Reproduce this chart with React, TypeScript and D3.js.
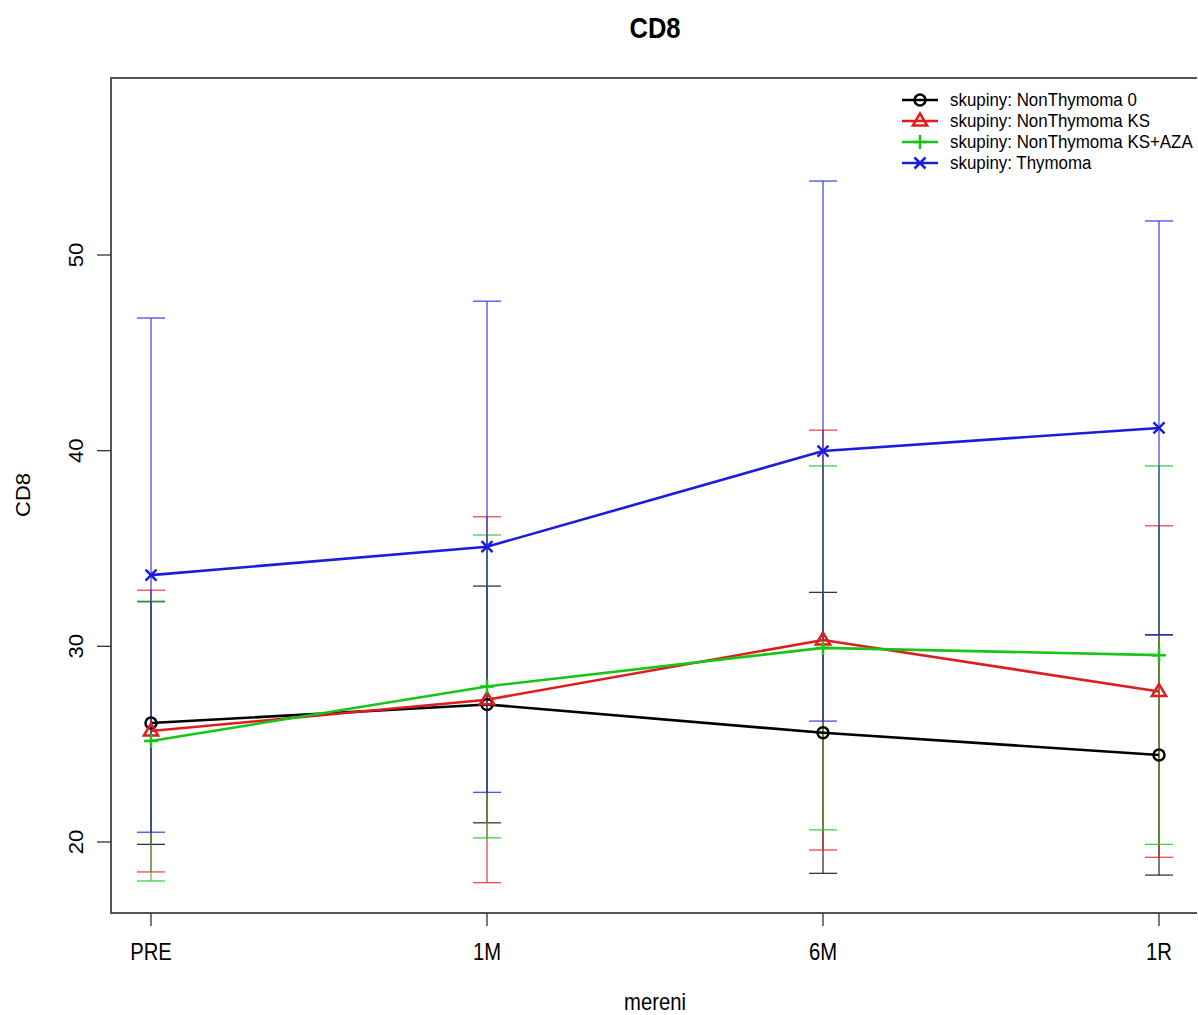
import React from "react";
import * as d3 from "d3";

const categories = ["PRE", "1M", "6M", "1R"];
const groupNames = [
  "skupiny: NonThymoma 0",
  "skupiny: NonThymoma KS",
  "skupiny: NonThymoma KS+AZA",
  "skupiny: Thymoma",
];
const meanNon0 = [26.08, 27.03, 25.58, 24.45];
const errNon0 = [6.2, 6.05, 7.18, 6.14];
const meanKS = [25.67, 27.27, 30.32, 27.69];
const errKS = [7.2, 9.35, 10.73, 8.47];
const meanKSAZA = [25.16, 27.95, 29.92, 29.55];
const errKSAZA = [7.15, 7.74, 9.3, 9.67];
const meanThym = [33.64, 35.09, 39.98, 41.16];
const errThym = [13.14, 12.55, 13.8, 10.58];
const yTicks = [20, 30, 40, 50];

const colors = ["#000000", "#e01c1c", "#18c418", "#1c1cdc"];
const shapes = ["circle", "triangle", "plus", "cross"];

const FONT = "'Liberation Sans', Arial, Helvetica, sans-serif";
const C = 0.88; // horizontal squeeze of the text

function Marker({ shape, x, y, color }: { shape: string; x: number; y: number; color: string }) {
  const sw = 2.5;
  if (shape === "circle")
    return <circle cx={x} cy={y} r={5.5} fill="none" stroke={color} strokeWidth={sw} />;
  if (shape === "triangle") {
    const s = 7.5;
    const p = d3.path();
    p.moveTo(x, y - s);
    p.lineTo(x + s * 0.95, y + s * 0.6);
    p.lineTo(x - s * 0.95, y + s * 0.6);
    p.closePath();
    return <path d={p.toString()} fill="none" stroke={color} strokeWidth={sw} />;
  }
  if (shape === "plus") {
    const s = 7;
    return (
      <path d={`M${x - s},${y}H${x + s}M${x},${y - s}V${y + s}`} stroke={color} strokeWidth={sw} />
    );
  }
  const s = 5.5;
  return (
    <path
      d={`M${x - s},${y - s}L${x + s},${y + s}M${x - s},${y + s}L${x + s},${y - s}`}
      stroke={color}
      strokeWidth={sw}
    />
  );
}

export default function App() {
  const W = 1198;
  const H = 1015;
  const left = 111;
  const top = 78;
  const bottom = 913;
  const right = 1197;

  const x = d3.scalePoint<string>().domain(categories).range([151, 1159]);
  const y = d3.scaleLinear().domain([20, 50]).range([842, 255]);

  const means = [meanNon0, meanKS, meanKSAZA, meanThym];
  const errs = [errNon0, errKS, errKSAZA, errThym];

  const line = d3
    .line<number>()
    .x((_, i) => x(categories[i]) as number)
    .y((d) => y(d));

  const cap = 14;
  const legendX = 920;
  const legendY0 = 100;
  const legendDy = 21;

  return (
    <svg width={W} height={H} style={{ position: "absolute", left: 0, top: 0 }} fontFamily={FONT}>
      <rect x={0} y={0} width={W} height={H} fill="#fff" />
      {/* title */}
      <text
        transform={`translate(655,38) scale(${C},1)`}
        textAnchor="middle"
        fontWeight="bold"
        fontSize={29}
        fill="#000"
      >
        CD8
      </text>

      {/* error bars */}
      {means.map((m, g) => (
        <g key={"eb" + g} stroke={colors[g]} strokeWidth={1.2} opacity={0.85}>
          {m.map((v, i) => {
            const cx = x(categories[i]) as number;
            const hi = y(v + errs[g][i]);
            const lo = y(v - errs[g][i]);
            return (
              <g key={i}>
                <line x1={cx} x2={cx} y1={hi} y2={lo} />
                <line x1={cx - cap} x2={cx + cap} y1={hi} y2={hi} />
                <line x1={cx - cap} x2={cx + cap} y1={lo} y2={lo} />
              </g>
            );
          })}
        </g>
      ))}

      {/* lines */}
      {means.map((m, g) => (
        <path key={"ln" + g} d={line(m) as string} fill="none" stroke={colors[g]} strokeWidth={2.6} />
      ))}
      {means.map((m, g) =>
        m.map((v, i) => (
          <Marker
            key={"mk" + g + "-" + i}
            shape={shapes[g]}
            x={x(categories[i]) as number}
            y={y(v)}
            color={colors[g]}
          />
        ))
      )}

      {/* plot box */}
      <path
        d={`M${right},${top}H${left}V${bottom}H${right}`}
        fill="none"
        stroke="#555"
        strokeWidth={2}
      />

      {/* y axis */}
      {yTicks.map((t) => (
        <g key={"yt" + t}>
          <line x1={97} x2={left} y1={y(t)} y2={y(t)} stroke="#333" strokeWidth={1.3} />
          <text
            transform={`translate(83,${y(t)}) scale(${C},1) rotate(-90)`}
            textAnchor="middle"
            fontSize={22}
            fill="#000"
          >
            {t}
          </text>
        </g>
      ))}
      <text
        transform={`translate(30,495) scale(${C},1) rotate(-90)`}
        textAnchor="middle"
        fontSize={22}
        fill="#000"
      >
        CD8
      </text>

      {/* x axis */}
      {categories.map((c) => (
        <g key={"xt" + c}>
          <line
            x1={x(c) as number}
            x2={x(c) as number}
            y1={bottom}
            y2={926}
            stroke="#333"
            strokeWidth={1.3}
          />
          <text
            transform={`translate(${x(c)},960) scale(${C},1)`}
            textAnchor="middle"
            fontSize={23}
            fill="#000"
          >
            {c}
          </text>
        </g>
      ))}
      <text
        transform={`translate(655,1010) scale(${C},1)`}
        textAnchor="middle"
        fontSize={23}
        fill="#000"
      >
        mereni
      </text>

      {/* legend */}
      {groupNames.map((n, g) => {
        const ly = legendY0 + g * legendDy;
        return (
          <g key={"lg" + g}>
            <line x1={902} x2={938} y1={ly} y2={ly} stroke={colors[g]} strokeWidth={2.4} />
            <Marker shape={shapes[g]} x={legendX} y={ly} color={colors[g]} />
            <text
              transform={`translate(950,${ly + 6}) scale(${C},1)`}
              fontSize={19.2}
              fill="#000"
            >
              {n}
            </text>
          </g>
        );
      })}
    </svg>
  );
}
